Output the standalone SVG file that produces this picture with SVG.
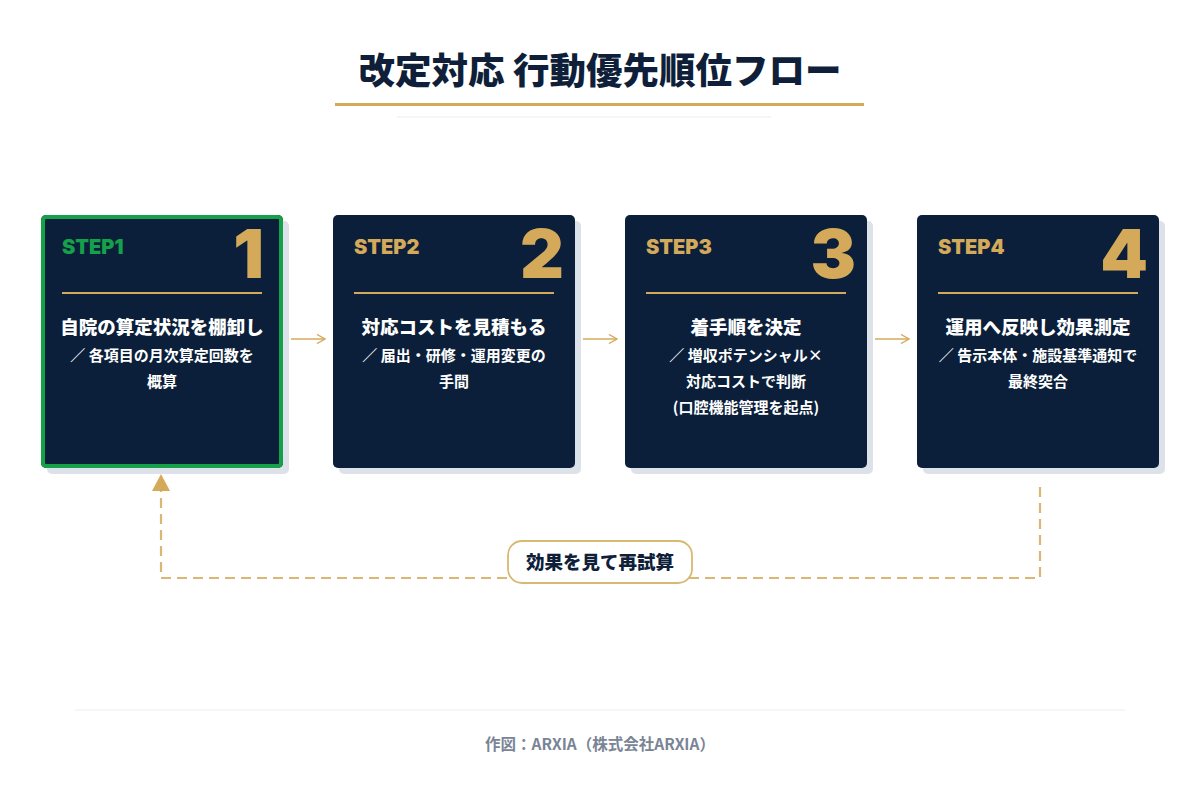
<svg xmlns="http://www.w3.org/2000/svg" width="1200" height="800" viewBox="0 0 1200 800">
<defs>
<style>
.jp{font-family:"Noto Sans CJK JP","Noto Sans",sans-serif;}
.card{fill:#0b1f3a;}
.shadow{fill:#dde2ea;}
.step{font-family:"Inter","Noto Sans",sans-serif;font-weight:900;font-size:20px;fill:#d4aa5a;}
.num{font-family:"Inter","Noto Sans",sans-serif;font-weight:900;font-size:68px;fill:#d4aa5a;text-anchor:end;}
.div{stroke:#d4aa5a;stroke-width:2;}
.ttl{font-family:"Noto Sans CJK JP",sans-serif;font-weight:900;font-size:18.5px;fill:#ffffff;text-anchor:middle;}
.sub{font-family:"Noto Sans CJK JP",sans-serif;font-weight:700;font-size:15px;fill:#ffffff;text-anchor:middle;}
.flow{stroke:#d4aa5a;stroke-width:1.6;fill:none;}
</style>
<marker id="chev" viewBox="0 0 10 10" refX="9" refY="5" markerWidth="10" markerHeight="10" markerUnits="userSpaceOnUse" orient="auto">
<path d="M1,0.5 L9,5 L1,9.5" fill="none" stroke="#d4aa5a" stroke-width="1.4"/>
</marker>
</defs>
<rect width="1200" height="800" fill="#ffffff"/>

<g id="title">
<text x="600" y="84" class="jp" font-size="36.5" font-weight="900" fill="#0f1f3a" text-anchor="middle">改定対応 行動優先順位フロー</text>
<rect x="335" y="103" width="529" height="3" fill="#d4aa5a"/>
<rect x="397" y="116.5" width="374" height="1" fill="#eceef2"/>
</g>

<g id="connectors">
<line class="flow" x1="291" y1="339" x2="325" y2="339" marker-end="url(#chev)"/>
<line class="flow" x1="583" y1="339" x2="617" y2="339" marker-end="url(#chev)"/>
<line class="flow" x1="875" y1="339" x2="909" y2="339" marker-end="url(#chev)"/>
<path d="M1040,487 L1040,578 L161,578 L161,490" fill="none" stroke="#d9b873" stroke-width="2.2" stroke-dasharray="10,6"/>
<path d="M152,491 L161,474 L170,491 Z" fill="#d4aa5a"/>
</g>

<g id="step1">
<rect class="shadow" x="47" y="221" width="242" height="253" rx="5"/>
<rect class="card" x="41" y="215" width="242" height="253" rx="5"/>
<rect x="43" y="217" width="238" height="249" rx="3" fill="none" stroke="#15a04a" stroke-width="4"/>
<text class="step" x="62" y="254" style="fill:#15a04a">STEP1</text>
<text class="num" x="264" y="278">1</text>
<line class="div" x1="62" y1="293" x2="262" y2="293"/>
<text class="ttl" x="162" y="334">自院の算定状況を棚卸し</text>
<text class="sub" x="162" y="361">／ 各項目の月次算定回数を</text>
<text class="sub" x="162" y="387">概算</text>
</g>

<g id="step2">
<rect class="shadow" x="339" y="221" width="242" height="253" rx="5"/>
<rect class="card" x="333" y="215" width="242" height="253" rx="5"/>
<text class="step" x="354" y="254">STEP2</text>
<text class="num" x="564" y="278">2</text>
<line class="div" x1="354" y1="293" x2="554" y2="293"/>
<text class="ttl" x="454" y="334">対応コストを見積もる</text>
<text class="sub" x="454" y="361">／ 届出・研修・運用変更の</text>
<text class="sub" x="454" y="387">手間</text>
</g>

<g id="step3">
<rect class="shadow" x="631" y="221" width="242" height="253" rx="5"/>
<rect class="card" x="625" y="215" width="242" height="253" rx="5"/>
<text class="step" x="646" y="254">STEP3</text>
<text class="num" x="856" y="278">3</text>
<line class="div" x1="646" y1="293" x2="846" y2="293"/>
<text class="ttl" x="746" y="334">着手順を決定</text>
<text class="sub" x="746" y="361">／ 増収ポテンシャル×</text>
<text class="sub" x="746" y="387">対応コストで判断</text>
<text class="sub" x="746" y="413">(口腔機能管理を起点)</text>
</g>

<g id="step4">
<rect class="shadow" x="923" y="221" width="242" height="253" rx="5"/>
<rect class="card" x="917" y="215" width="242" height="253" rx="5"/>
<text class="step" x="938" y="254">STEP4</text>
<text class="num" x="1148" y="278">4</text>
<line class="div" x1="938" y1="293" x2="1138" y2="293"/>
<text class="ttl" x="1038" y="334">運用へ反映し効果測定</text>
<text class="sub" x="1038" y="361">／ 告示本体・施設基準通知で</text>
<text class="sub" x="1038" y="387">最終突合</text>
</g>

<g id="loop-label">
<rect x="508" y="541" width="184" height="42" rx="14" fill="#ffffff" stroke="#d9b873" stroke-width="1.8"/>
<text x="600" y="569" class="jp" font-size="18.5" font-weight="900" fill="#0f1f3a" text-anchor="middle">効果を見て再試算</text>
</g>

<g id="footer">
<rect x="75" y="709.5" width="1050" height="1" fill="#eceef2"/>
<text x="600" y="750" class="jp" font-size="15.5" font-weight="700" fill="#7a8494" text-anchor="middle">作図：ARXIA（株式会社ARXIA）</text>
</g>
</svg>
